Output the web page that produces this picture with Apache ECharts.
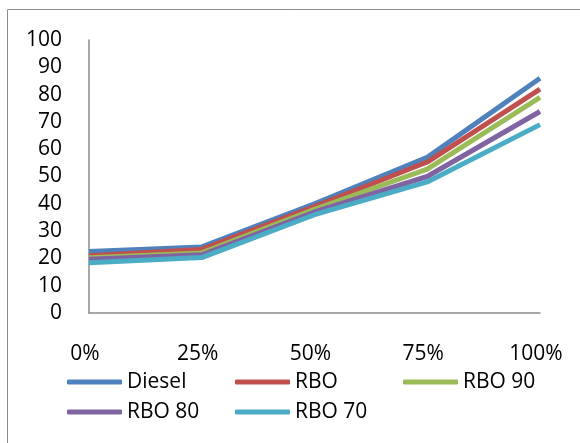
<!DOCTYPE html>
<html>
<head>
<meta charset="utf-8">
<script src="https://cdn.jsdelivr.net/npm/echarts@6/dist/echarts.min.js"></script>
<style>
  html, body { margin: 0; padding: 0; background: #fff; }
  #chart { width: 580px; height: 443px; }
</style>
</head>
<body>
<div id="chart"></div>
<script>
// Blend ratios along the x axis
const categories = ['0%', '25%', '50%', '75%', '100%'];

// Measured values for each fuel
const diesel = [22.5, 24.2, 40, 57, 86];
const rbo    = [21, 23.3, 39, 55.3, 82];
const rbo90  = [20.2, 22, 38, 52.7, 79];
const rbo80  = [19.7, 21.3, 37, 50, 73.8];
const rbo70  = [18.4, 20.3, 36, 48, 69];

const seriesNames  = ['Diesel', 'RBO', 'RBO 90', 'RBO 80', 'RBO 70'];
const seriesValues = [diesel, rbo, rbo90, rbo80, rbo70];
const seriesColors = ['#4F81BD', '#C0504D', '#9BBB59', '#8064A2', '#4BACC6'];

const yTicks = { min: 0, max: 100, interval: 10 };

const FONT = '"Open Sans", "Noto Sans", sans-serif';

const chart = echarts.init(document.getElementById('chart'), null, { renderer: 'canvas' });

chart.setOption({
  backgroundColor: '#fff',
  animation: false,
  textStyle: { fontFamily: FONT, color: '#000' },
  graphic: [
    { type: 'line', shape: { x1: 7.5, y1: 9.5, x2: 7.5, y2: 443 }, style: { stroke: '#8c8c8c', lineWidth: 1 } },
    { type: 'line', shape: { x1: 7.5, y1: 9.5, x2: 580, y2: 9.5 }, style: { stroke: '#8c8c8c', lineWidth: 1 } }
  ],
  grid: { left: 89, right: 40, top: 40, height: 273, containLabel: false },
  xAxis: {
    type: 'category',
    data: categories,
    boundaryGap: false,
    axisLine: { lineStyle: { color: '#8c8c8c', width: 1.5 } },
    axisTick: { show: false },
    splitLine: { show: false },
    axisLabel: { margin: 31, fontSize: 21, fontFamily: FONT, color: '#000', padding: [0, 8, 0, 0] }
  },
  yAxis: {
    type: 'value',
    min: yTicks.min,
    max: yTicks.max,
    interval: yTicks.interval,
    axisLine: { show: true, lineStyle: { color: '#8c8c8c', width: 1.5 } },
    axisTick: { show: false },
    splitLine: { show: false },
    axisLabel: { margin: 27, fontSize: 21, fontFamily: FONT, color: '#000' }
  },
  legend: {
    left: 62,
    top: 364,
    width: 510,
    orient: 'horizontal',
    icon: 'roundRect',
    itemWidth: 55,
    itemHeight: 5,
    itemGap: 4,
    itemStyle: { borderWidth: 0 },
    textStyle: { fontSize: 21, fontFamily: FONT, color: '#000', width: 104, lineHeight: 26 },
    data: seriesNames
  },
  series: seriesNames.map((name, i) => ({
    name: name,
    type: 'line',
    data: seriesValues[i],
    symbol: 'none',
    color: seriesColors[i],
    lineStyle: { width: 5, color: seriesColors[i], join: 'round' }
  }))
});
</script>
</body>
</html>
